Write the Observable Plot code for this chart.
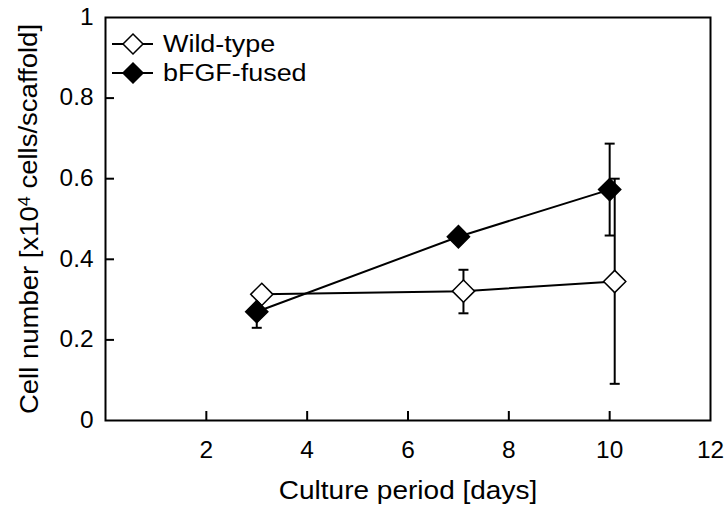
<!DOCTYPE html>
<html><head><meta charset="utf-8">
<script src="https://cdn.jsdelivr.net/npm/d3@7"></script>
<script src="https://cdn.jsdelivr.net/npm/@observablehq/plot@0.6"></script>
<style>
body{margin:0;background:#fff;}
#chart{position:relative;width:726px;height:509px;}
</style></head><body><div id="chart"></div>
<script>
const seriesNames = ["Wild-type", "bFGF-fused"];
const wtDays = [3.1, 7.1, 10.1];
const wtMean = [0.313, 0.321, 0.345];
const wtLow  = [0.313, 0.266, 0.091];
const wtHigh = [0.313, 0.374, 0.600];
const fgDays = [3, 7, 10];
const fgMean = [0.270, 0.456, 0.573];
const fgLow  = [0.230, 0.442, 0.459];
const fgHigh = [0.310, 0.470, 0.687];
const xTicks = [2, 4, 6, 8, 10, 12];
const yTicks = [0, 0.2, 0.4, 0.6, 0.8, 1];
const xLabel = "Culture period [days]";
const yLabelParts = ["Cell number [x10", "4", " cells/scaffold]"];

const rows = [];
wtDays.forEach((d, i) => rows.push({series: seriesNames[0], day: d, mean: wtMean[i], low: wtLow[i], high: wtHigh[i]}));
fgDays.forEach((d, i) => rows.push({series: seriesNames[1], day: d, mean: fgMean[i], low: fgLow[i], high: fgHigh[i]}));
const bars = rows.filter(r => r.high > r.low);

const capSymbol = {draw(ctx, size) { const w = Math.sqrt(size / Math.PI); ctx.moveTo(-w, 0); ctx.lineTo(w, 0); }};
const FONT = "'Liberation Sans', Arial, Helvetica, sans-serif";

const plot = Plot.plot({
  width: 726, height: 509,
  marginTop: 17, marginRight: 16, marginBottom: 89, marginLeft: 105,
  style: {fontFamily: FONT, fontSize: "23px", color: "#000", background: "#fff", overflow: "visible"},
  x: {domain: [0, 12]},
  y: {domain: [0, 1]},
  marks: [
    Plot.axisX({ticks: xTicks, tickSize: 0, tickPadding: 21, tickFormat: d => String(d), label: null, fontSize: 23}),
    Plot.axisX({ticks: xTicks.filter(t => t < 12), tickSize: -9, tickFormat: () => "", label: null, strokeWidth: 2}),
    Plot.axisY({ticks: yTicks, tickSize: 0, tickPadding: 12, tickFormat: d => String(d), label: null, fontSize: 23}),
    Plot.axisY({ticks: yTicks.filter(t => t > 0 && t < 1), tickSize: -9, tickFormat: () => "", label: null, strokeWidth: 2}),
    Plot.frame({stroke: "#000", strokeWidth: 2}),
    Plot.line(rows, {x: "day", y: "mean", z: "series", stroke: "#000", strokeWidth: 2}),
    Plot.ruleX(bars, {x: "day", y1: "low", y2: "high", stroke: "#000", strokeWidth: 2}),
    Plot.dot(bars, {x: "day", y: "low", symbol: capSymbol, r: 5, stroke: "#000", strokeWidth: 2}),
    Plot.dot(bars, {x: "day", y: "high", symbol: capSymbol, r: 5, stroke: "#000", strokeWidth: 2}),
    Plot.dot(rows, {x: "day", y: "mean", symbol: "diamond2", r: 10, stroke: "#000", strokeWidth: 1.5,
      fill: d => d.series === seriesNames[0] ? "#fff" : "#000"}),
    Plot.text([xLabel], {frameAnchor: "bottom", dy: 78, lineAnchor: "bottom", textAnchor: "middle", fontSize: 25, text: d => d, fill: "#000"}),
    Plot.text([yLabelParts.join("")], {frameAnchor: "left", dx: -68, rotate: -90, lineAnchor: "bottom", textAnchor: "middle", fontSize: 25, text: d => d, fill: "#000"})
  ]
});
document.getElementById("chart").appendChild(plot);

const svg = d3.select(plot);

// widen glyphs slightly to match the reference's broad sans face
function stretch(sel, k) {
  sel.each(function() {
    const t = this.textContent;
    if (!t) return;
    const L = this.getComputedTextLength();
    if (L > 0) { this.setAttribute("textLength", (L * k).toFixed(1)); this.setAttribute("lengthAdjust", "spacingAndGlyphs"); }
  });
}
stretch(svg.selectAll("g[aria-label='x-axis tick label'] text, g[aria-label='y-axis tick label'] text"), 1.06);
stretch(svg.selectAll("g[aria-label='text'] text").filter(function() { return this.textContent === xLabel; }), 1.12);

// y label with real superscript
svg.selectAll("g[aria-label='text'] text").filter(function() { return this.textContent === yLabelParts.join(""); })
  .each(function() {
    const t = d3.select(this);
    t.text(null);
    t.append("tspan").text(yLabelParts[0]);
    t.append("tspan").attr("dy", "-0.45em").attr("font-size", "0.65em").text(yLabelParts[1]);
    t.append("tspan").attr("dy", "0.29em").text(yLabelParts[2]);
    const L = this.getComputedTextLength();
    this.setAttribute("textLength", (L * 1.1).toFixed(1));
    this.setAttribute("lengthAdjust", "spacingAndGlyphs");
  });

// legend inside the frame
const lg = svg.append("g").attr("class", "legend").attr("text-anchor", "start");
seriesNames.forEach((name, i) => {
  const y = 44 + i * 29;
  const g = lg.append("g").attr("transform", `translate(0,${y})`);
  g.append("line").attr("x1", 112).attr("x2", 153).attr("y1", 0).attr("y2", 0).attr("stroke", "#000").attr("stroke-width", 2);
  g.append("path").attr("transform", "translate(133,0)")
    .attr("d", d3.symbol(d3.symbolDiamond2, Math.PI * 81)())
    .attr("fill", i === 0 ? "#fff" : "#000").attr("stroke", "#000").attr("stroke-width", 1.5);
  const t = g.append("text").attr("x", 163).attr("y", 8).attr("font-size", 23).attr("font-family", FONT)
    .attr("text-anchor", "start").attr("fill", "#000").text(name);
  stretch(t, 1.17);
});
</script></body></html>
